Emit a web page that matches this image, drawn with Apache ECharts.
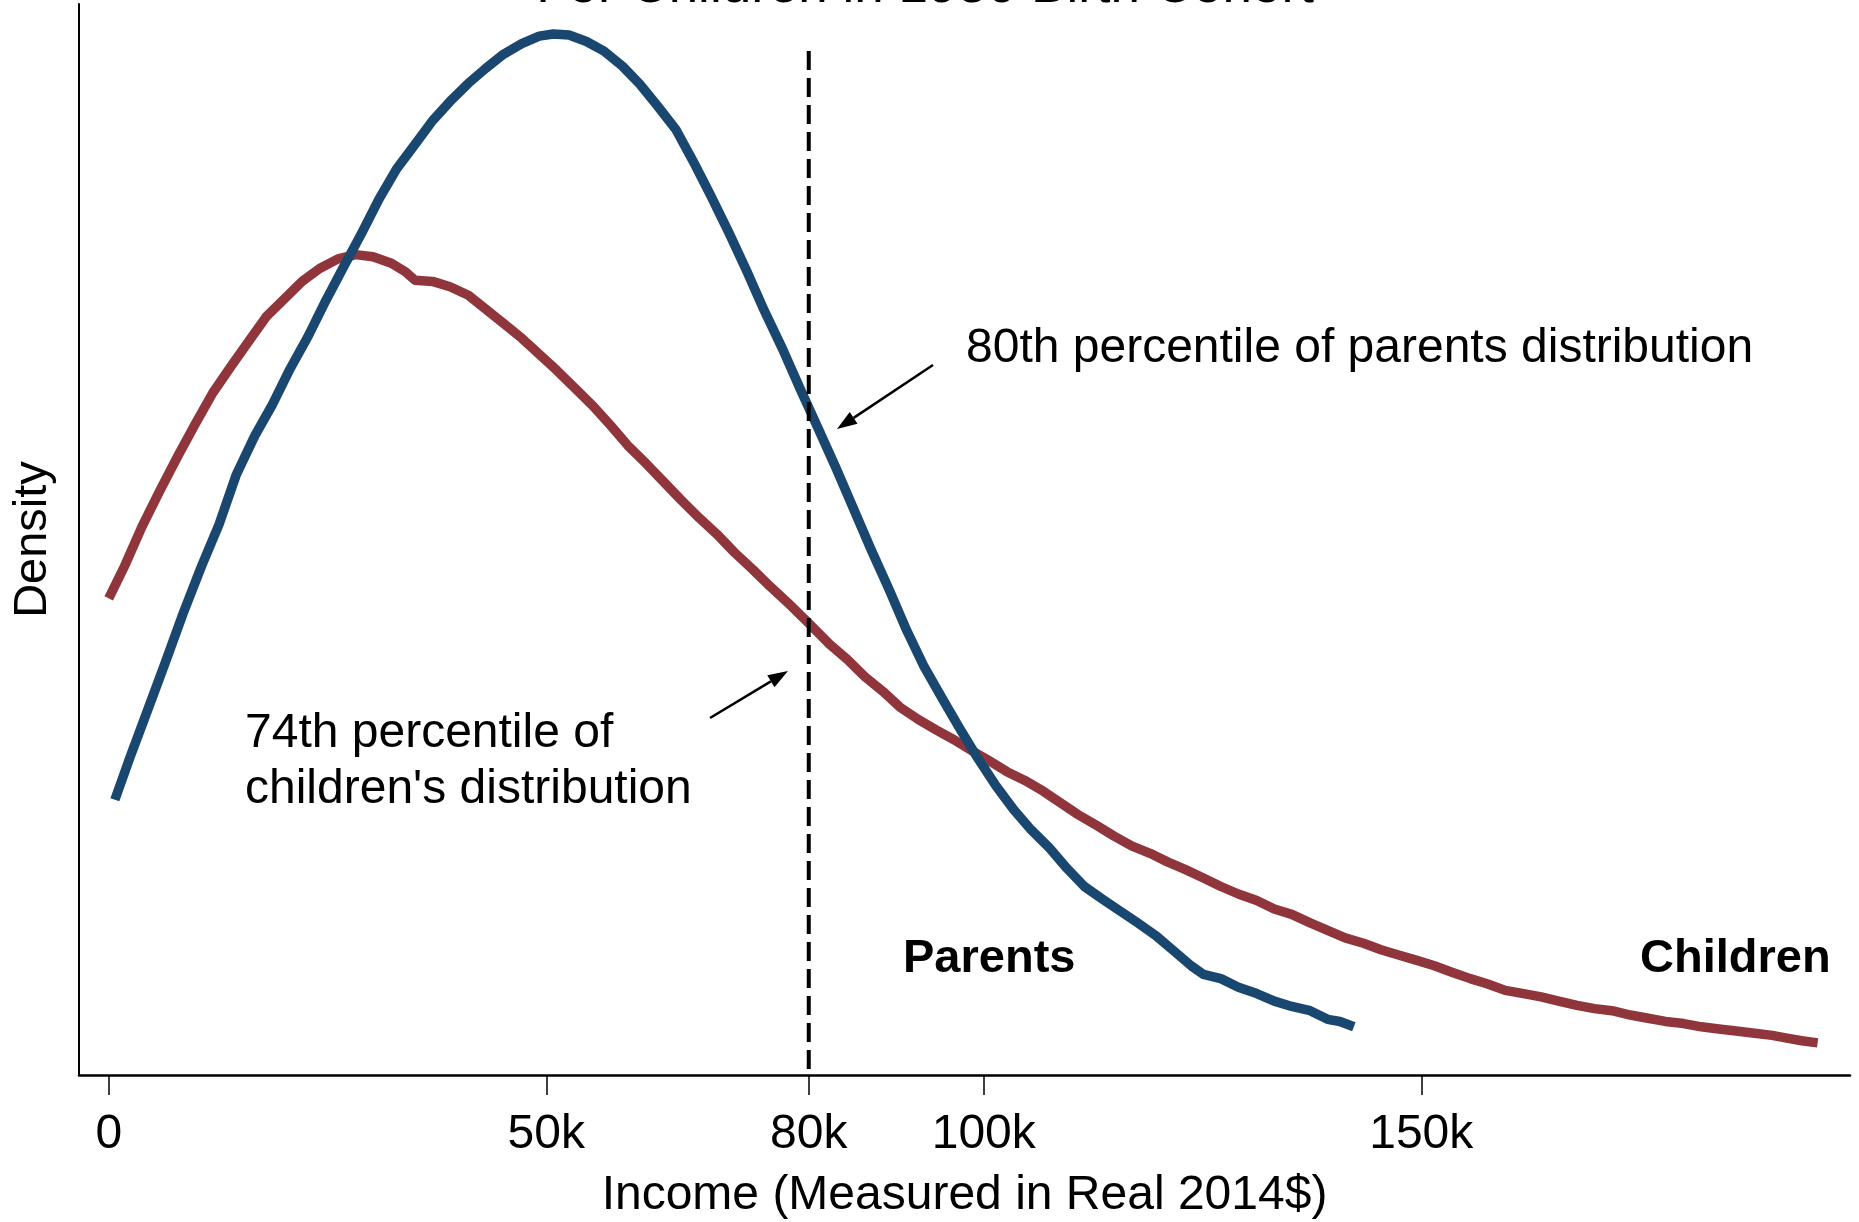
<!DOCTYPE html>
<html>
<head>
<meta charset="utf-8">
<script src="https://cdn.jsdelivr.net/npm/echarts@6/dist/echarts.min.js"></script>
<style>
html,body{margin:0;padding:0;background:#fff;}
#chart{width:1859px;height:1222px;}
</style>
</head>
<body>
<div id="chart"></div>
<script>
// Income in thousands of real 2014 dollars; density in relative units
const parentsIncome = [0.7,2.4,4.5,6.5,8.5,10.6,12.6,14.6,16.7,18.7,20.7,22.8,24.8,26.8,28.9,30.9,32.9,35.0,37.0,39.0,41.1,43.1,45.1,47.2,49.2,50.8,52.6,54.6,56.6,58.7,60.7,62.7,64.8,66.8,68.8,70.9,72.9,74.9,77.0,79.0,81.0,83.1,85.1,87.1,89.2,91.2,93.2,95.3,97.3,99.3,101.4,103.4,105.4,107.5,109.5,111.5,113.6,115.6,117.6,119.7,121.7,123.7,125.1,127.1,129.1,131.2,133.2,135.2,137.3,139.3,140.7,142.3];
const parentsDensity = [25.7,29.6,34.2,38.6,43.1,47.5,51.4,56.1,59.7,62.6,65.9,69.0,72.3,75.4,78.6,81.8,84.6,86.9,89.1,90.9,92.6,94.0,95.3,96.3,97.0,97.2,97.1,96.5,95.6,94.2,92.5,90.5,88.3,85.3,82.1,78.6,75.1,71.4,67.8,64.1,60.5,56.7,52.9,49.1,45.3,41.5,38.1,35.1,32.3,29.6,27.0,24.8,22.9,21.2,19.3,17.6,16.4,15.3,14.2,13.0,11.6,10.2,9.4,9.0,8.2,7.6,6.9,6.4,6.0,5.2,5.0,4.5];

const childrenIncome = [0,1.8,3.8,5.8,7.9,9.9,11.9,14.0,16.0,18.0,20.1,22.1,24.1,26.2,28.2,30.2,32.3,33.9,35.0,37.0,39.0,41.1,43.1,45.1,47.2,49.2,51.2,53.3,55.3,57.3,59.3,61.4,63.4,65.4,67.5,69.5,71.5,73.6,75.6,77.6,80.1,82.4,84.4,86.4,88.5,90.5,92.5,94.6,96.6,98.6,100.7,102.7,104.7,106.8,108.8,110.8,112.9,114.9,116.9,119.0,121.0,123.0,125.1,127.1,129.1,131.2,133.2,135.2,137.3,139.3,141.3,143.4,145.4,147.4,149.5,151.5,153.5,155.6,157.6,159.6,161.7,163.7,165.7,167.8,169.8,171.8,173.9,175.9,177.9,180.0,182.0,184.0,186.0,188.1,190.1,192.1,193.5,195.3];
const childrenDensity = [44.5,47.5,51.2,54.5,57.8,60.8,63.7,66.2,68.5,70.8,72.5,74.1,75.3,76.2,76.6,76.4,75.8,75.0,74.2,74.1,73.6,72.8,71.5,70.2,68.8,67.3,65.8,64.1,62.5,60.7,58.8,57.1,55.4,53.7,52.0,50.5,48.8,47.2,45.6,44.1,42.1,40.2,38.8,37.2,35.8,34.3,33.2,32.2,31.3,30.3,29.3,28.3,27.5,26.5,25.4,24.3,23.3,22.3,21.4,20.7,19.9,19.2,18.4,17.6,16.9,16.3,15.5,15.0,14.2,13.5,12.8,12.3,11.7,11.2,10.7,10.2,9.6,9.0,8.5,7.9,7.6,7.3,6.9,6.5,6.2,6.0,5.6,5.3,5.0,4.8,4.5,4.3,4.1,3.9,3.7,3.4,3.2,3.0];

const tickValues = [0, 50, 80, 100, 150];
const percentileX = [80, 80];
const percentileY = [95.6, 0];

const titleText = 'For Children in 1980 Birth Cohort';
const xAxisName = 'Income (Measured in Real 2014$)';
const yAxisName = 'Density';
const annParents = '80th percentile of parents distribution';
const annChildren = "74th percentile of\nchildren's distribution";

const FONT = '"Liberation Sans", Arial, Helvetica, sans-serif';
const NAVY = '#1a476f';
const MAROON = '#90353b';

function zip(a, b) { return a.map((v, i) => [v, b[i]]); }

function arrow(x1, y1, x2, y2) {
  const dx = x2 - x1, dy = y2 - y1;
  const L = Math.sqrt(dx * dx + dy * dy);
  const ux = dx / L, uy = dy / L;
  const hl = 20, hw = 7;
  const bx = x2 - ux * hl, by = y2 - uy * hl;
  return [
    { type: 'line', shape: { x1: x1, y1: y1, x2: bx, y2: by },
      style: { stroke: '#000', lineWidth: 2.5 }, z: 10 },
    { type: 'polygon', shape: { points: [[x2, y2], [bx - uy * hw, by + ux * hw], [bx + uy * hw, by - ux * hw]] },
      style: { fill: '#000' }, z: 10 }
  ];
}

const chart = echarts.init(document.getElementById('chart'), null, { renderer: 'canvas' });

const textStyleBase = { fill: '#000', font: '48px ' + FONT };

const option = {
  animation: false,
  backgroundColor: '#fff',
  grid: { left: 79, right: 9, top: 4, bottom: 147, containLabel: false, outerBoundsMode: 'none' },
  xAxis: {
    type: 'value',
    min: -3.4,
    max: 199,
    name: xAxisName,
    nameLocation: 'middle',
    nameGap: 97,
    nameTextStyle: { fontSize: 48, color: '#000', fontFamily: FONT },
    axisLine: { show: true, onZero: false, lineStyle: { color: '#000', width: 2.5 } },
    axisTick: { show: true, customValues: tickValues, length: 20, lineStyle: { color: '#000', width: 1.5 } },
    axisLabel: {
      show: true, customValues: tickValues, margin: 36,
      fontSize: 48, color: '#000', fontFamily: FONT,
      formatter: function (v) { return v === 0 ? '0' : v + 'k'; }
    },
    splitLine: { show: false }
  },
  yAxis: {
    type: 'value',
    min: 0,
    max: 100,
    name: yAxisName,
    nameLocation: 'middle',
    nameGap: 22,
    nameTextStyle: { fontSize: 47, color: '#000', fontFamily: FONT },
    axisLine: { show: true, onZero: false, lineStyle: { color: '#000', width: 2 } },
    axisTick: { show: false },
    axisLabel: { show: false },
    splitLine: { show: false }
  },
  series: [
    {
      name: 'Children', type: 'line', data: zip(childrenIncome, childrenDensity),
      symbol: 'none', smooth: false, clip: false,
      lineStyle: { color: MAROON, width: 9.5, cap: 'butt', join: 'round' }, z: 3
    },
    {
      name: 'Parents', type: 'line', data: zip(parentsIncome, parentsDensity),
      symbol: 'none', smooth: false, clip: false,
      lineStyle: { color: NAVY, width: 9.5, cap: 'butt', join: 'round' }, z: 4
    },
    {
      name: '80k', type: 'line', data: zip(percentileX, percentileY),
      symbol: 'none',
      lineStyle: { color: '#000', width: 4, type: [19, 8], cap: 'butt' }, z: 5
    }
  ],
  graphic: [
    { type: 'text', x: 925, y: -13, z: 20,
      style: { text: titleText, fill: '#000', font: '53px ' + FONT, align: 'center', verticalAlign: 'middle' } },
    { type: 'text', x: 966, y: 349, z: 20,
      style: Object.assign({ text: annParents, align: 'left', verticalAlign: 'middle' }, textStyleBase) },
    { type: 'text', x: 245, y: 762, z: 20,
      style: Object.assign({ text: annChildren, align: 'left', verticalAlign: 'middle', lineHeight: 56 }, textStyleBase) },
    { type: 'text', x: 903, y: 959, z: 20,
      style: { text: 'Parents', fill: '#000', font: 'bold 47px ' + FONT, align: 'left', verticalAlign: 'middle' } },
    { type: 'text', x: 1640, y: 959, z: 20,
      style: { text: 'Children', fill: '#000', font: 'bold 47px ' + FONT, align: 'left', verticalAlign: 'middle' } }
  ].concat(arrow(933, 365, 837, 429)).concat(arrow(710, 718, 788, 671))
};

chart.setOption(option);
</script>
</body>
</html>
